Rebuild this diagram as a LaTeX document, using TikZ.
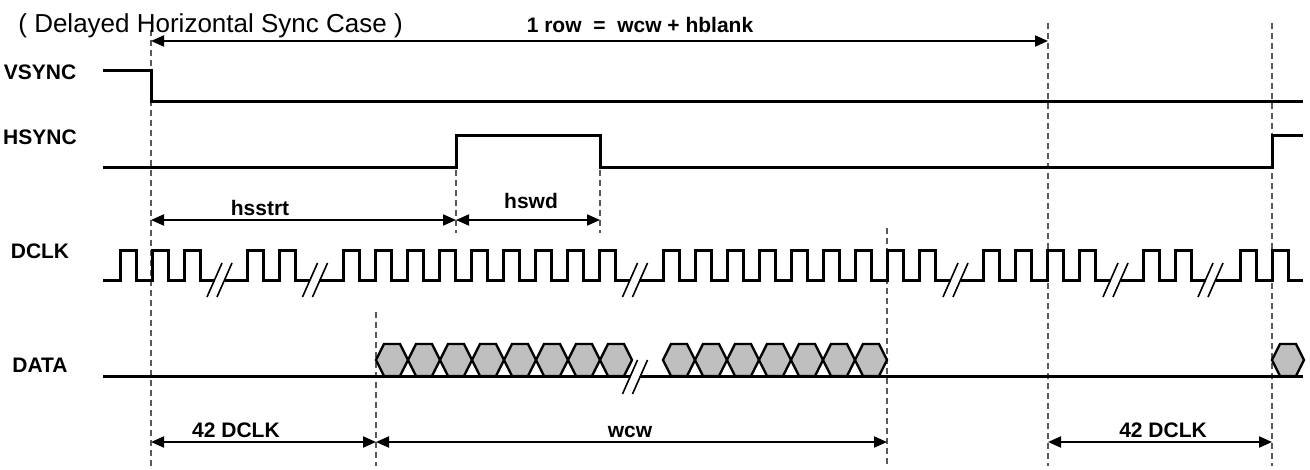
\documentclass[tikz,border=0pt]{standalone}
\usepackage{fontspec}
\setmainfont{Liberation Sans}
\usetikzlibrary{arrows.meta}
\tikzset{% 
	sig/.style = {line width = 1.5pt},
	gd/.style = {line width = 0.75pt, draw = black!65, dash pattern = on 3pt off 2pt},
	brk/.style = {line width = 0.8pt},
	cell/.style = {line width = 1.2pt, fill = black!25},
	>={Triangle[length = 6.5pt, width = 5.5pt]},
	every edge/.append style = {line width = 1pt},
	lab/.style = {name = #1, anchor = base, inner sep = 0pt, font = \bfseries\fontsize{10.5}{12}\selectfont}
}

\begin{document}
\begin{tikzpicture}[x=0.5pt, y=-0.5pt]
			\useasboundingbox (0,0) rectangle (1310,470);
			% guides
			\draw [gd] (151,30) -- (151,466);
			\draw [gd] (456,170) -- (456,233);
			\draw [gd] (600,170) -- (600,233);
			\draw [gd] (376,312) -- (376,466);
			\draw [gd] (887,228) -- (887,466);
			\draw [gd] (1048,23) -- (1048,466);
			\draw [gd] (1272,23) -- (1272,466);
			% signals
			\node [name = title, anchor = base west, inner sep = 0pt, font = \fontsize{13}{15}\selectfont] at (18,33) {( Delayed Horizontal Sync Case )};
			\node [lab = vsync] at (40,80) {VSYNC};
			\node [lab = hsync] at (40,145) {HSYNC};
			\node [lab = dclk] at (40,258) {DCLK};
			\node [lab = data] at (40,372) {DATA};
			\draw [sig] (103,71) -- (151,71) -- (151,102) -- (1303,102);
			\draw [sig] (103,168) -- (456,168) -- (456,136) -- (600,136) -- (600,168) -- (1272,168) -- (1272,136) -- (1303,136);
			\draw [sig] (103,280) \foreach \r in {120,152,184} { -- (\r,280) -- ++(0,-30) -- ++(16,0) -- ++(0,30) } -- (214.5,280);
			\draw [sig] (224.5,280) \foreach \r in {247,279} { -- (\r,280) -- ++(0,-30) -- ++(16,0) -- ++(0,30) } -- (310,280);
			\draw [sig] (320,280) \foreach \r in {343,375,...,599} { -- (\r,280) -- ++(0,-30) -- ++(16,0) -- ++(0,30) } -- (630,280);
			\draw [sig] (640,280) \foreach \r in {663,695,...,919} { -- (\r,280) -- ++(0,-30) -- ++(16,0) -- ++(0,30) } -- (950.5,280);
			\draw [sig] (960.5,280) \foreach \r in {983,1015,1047,1079} { -- (\r,280) -- ++(0,-30) -- ++(16,0) -- ++(0,30) } -- (1110.5,280);
			\draw [sig] (1120.5,280) \foreach \r in {1143,1175} { -- (\r,280) -- ++(0,-30) -- ++(16,0) -- ++(0,30) } -- (1205.5,280);
			\draw [sig] (1215.5,280) \foreach \r in {1240,1272} { -- (\r,280) -- ++(0,-30) -- ++(16,0) -- ++(0,30) } -- (1303,280);
			\draw [sig] (103,376) -- (630,376) (640,376) -- (1303,376);
			\foreach \x in {376,408,...,600,663,695,...,855,1272}
				\draw [cell] (\x,360) -- ++(8,-16) -- ++(16,0) -- ++(8,16) -- ++(-8,16) -- ++(-16,0) -- cycle;
			\foreach \c/\m in {219.5/280, 315/280, 635/280, 955.5/280, 1115.5/280, 1210.5/280, 635/377}
				\draw [brk] (\c-12.5,\m+17) -- (\c+2.5,\m-17) (\c-2.5,\m+17) -- (\c+12.5,\m-17);
			% spans
			\coordinate (rowL) at (151,41);
			\coordinate (rowR) at (1048,41);
			\coordinate (hsL) at (151,220);
			\coordinate (hsM) at (456,220);
			\coordinate (hsR) at (600,220);
			\coordinate (dkL) at (151,442);
			\coordinate (dkM) at (376,442);
			\coordinate (dkR) at (887,442);
			\coordinate (dbL) at (1048,442);
			\coordinate (dbR) at (1272,442);
			\path [<->] (rowL) edge (rowR);
			\path [<->] (hsL) edge (hsM);
			\path [<->] (hsM) edge (hsR);
			\path [<->] (dkL) edge (dkM);
			\path [<->] (dkM) edge (dkR);
			\path [<->] (dbL) edge (dbR);
			\node [lab = row] at (640,33) {1 row\ \ =\ \ wcw + hblank};
			\node [lab = hsstrt] at (260,215) {hsstrt};
			\node [lab = hswd] at (531,208) {hswd};
			\node [lab = dclkA] at (236,437) {42 DCLK};
			\node [lab = wcw] at (630,437) {wcw};
			\node [lab = dclkB] at (1163,437) {42 DCLK};
\end{tikzpicture}
\end{document}
